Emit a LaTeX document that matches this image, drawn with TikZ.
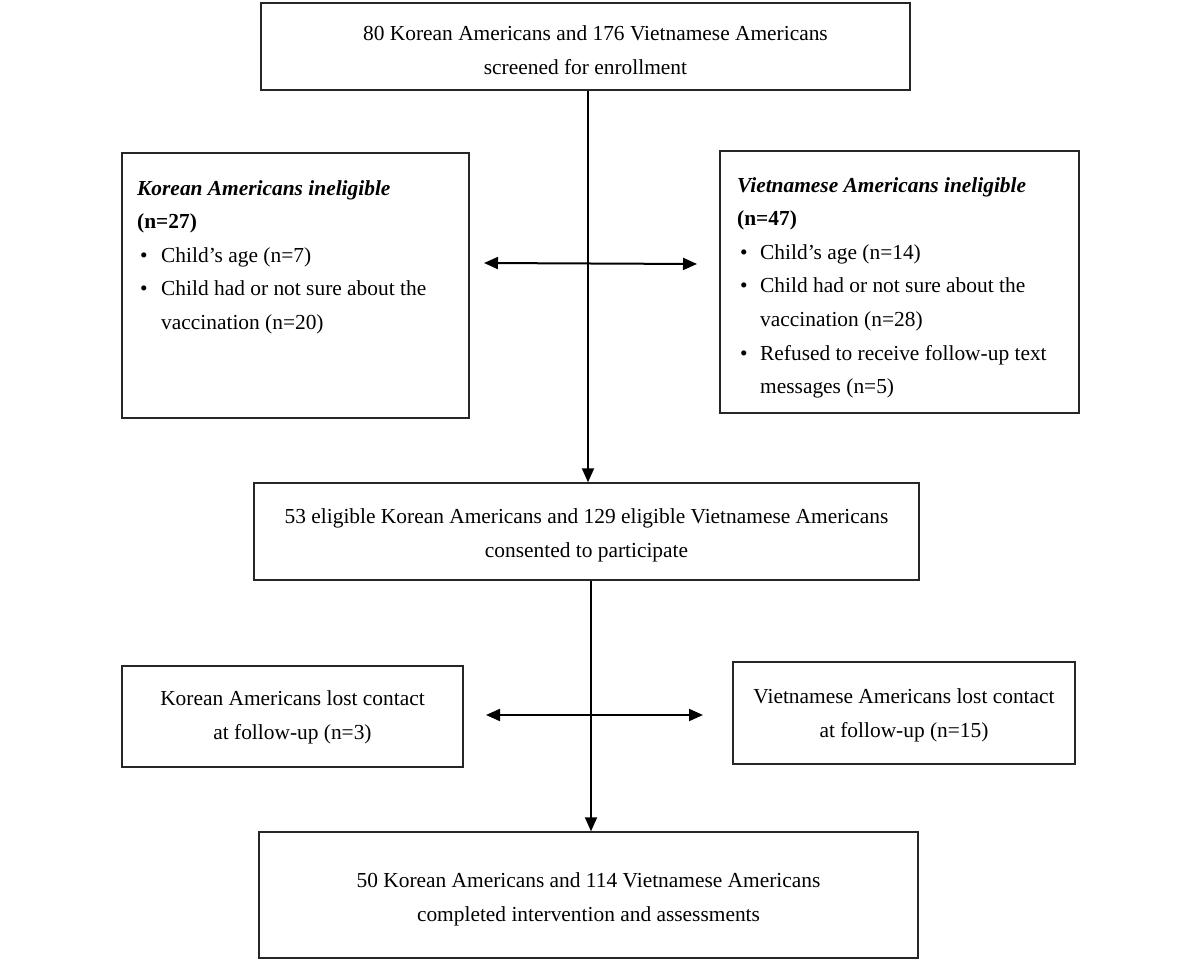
\documentclass[tikz,border=0pt]{standalone}
\usepackage{fontspec}
\setmainfont{Liberation Serif}
\usetikzlibrary{arrows.meta,calc}
\begin{document}
\begin{tikzpicture}[x=1pt,y=-1pt,
  box/.style={draw=black!85,line width=1.4pt,rectangle,inner sep=0pt},
  txt/.style={font=\fontsize{21.4}{34}\selectfont,align=center,inner sep=0pt},
  ltxt/.style={font=\fontsize{21.4}{33.6}\selectfont,align=left,anchor=north west,inner sep=0pt},
  arr/.style={line width=2pt,-{Triangle[length=14pt,width=12pt]}},
  darr/.style={line width=2pt,{Triangle[length=14pt,width=12pt]}-{Triangle[length=14pt,width=12pt]}}]
\useasboundingbox (0,0) rectangle (1200,960);
\fill[white] (0,0) rectangle (1200,960);
% boxes
\node[box,minimum width=649pt,minimum height=87pt] (top) at (585.5,46.5) {};
\node[txt] (toptxt) at (585.5,50) {\hspace*{20pt}80 Korean Americans and 176 Vietnamese Americans\\screened for enrollment};
\node[box,minimum width=347pt,minimum height=265pt] (kin) at (295.5,285.5) {};
\node[box,minimum width=359pt,minimum height=262pt] (vin) at (899.5,282) {};
\node[box,minimum width=665pt,minimum height=97pt] (mid) at (586.5,531.5) {};
\node[txt] (midtxt) at (586.5,535) {53 eligible Korean Americans and 129 eligible Vietnamese Americans\\consented to participate};
\node[box,minimum width=341pt,minimum height=101pt] (klost) at (292.5,716.5) {};
\node[txt] (klosttxt) at (292.5,717.5) {Korean Americans lost contact\\at follow-up (n=3)};
\node[box,minimum width=342pt,minimum height=102pt] (vlost) at (904,713) {};
\node[txt] (vlosttxt) at (904,715) {Vietnamese Americans lost contact\\at follow-up (n=15)};
\node[box,minimum width=659pt,minimum height=126pt] (bot) at (588.5,895) {};
\node[txt] (bottxt) at (588.5,899) {50 Korean Americans and 114 Vietnamese Americans\\completed intervention and assessments};
% inner texts
\node[ltxt] (ktext) at (137,180) {\textbf{\textit{Korean Americans ineligible}}\\
\textbf{(n=27)}\\
\makebox[24pt][l]{\hspace{3pt}\textbullet}Child’s age (n=7)\\
\makebox[24pt][l]{\hspace{3pt}\textbullet}Child had or not sure about the\\
\hspace{24pt}vaccination (n=20)};
\node[ltxt] (vtext) at (737,177) {\textbf{\textit{Vietnamese Americans ineligible}}\\
\textbf{(n=47)}\\
\makebox[23pt][l]{\hspace{3pt}\textbullet}Child’s age (n=14)\\
\makebox[23pt][l]{\hspace{3pt}\textbullet}Child had or not sure about the\\
\hspace{23pt}vaccination (n=28)\\
\makebox[23pt][l]{\hspace{3pt}\textbullet}Refused to receive follow-up text\\
\hspace{23pt}messages (n=5)};
% connectors
\draw[arr] ([xshift=2.5pt]top.south) -- ([xshift=2.5pt]top.south |- mid.north);
\draw[arr] ([xshift=4.5pt]mid.south) -- ([xshift=4.5pt]mid.south |- bot.north);
\coordinate (a1) at (484,263);
\coordinate (a2) at (697,264);
\coordinate (b1) at (486,715);
\coordinate (b2) at (703,715);
\draw[darr] (a1) -- (a2);
\draw[darr] (b1) -- (b2);
\end{tikzpicture}
\end{document}
